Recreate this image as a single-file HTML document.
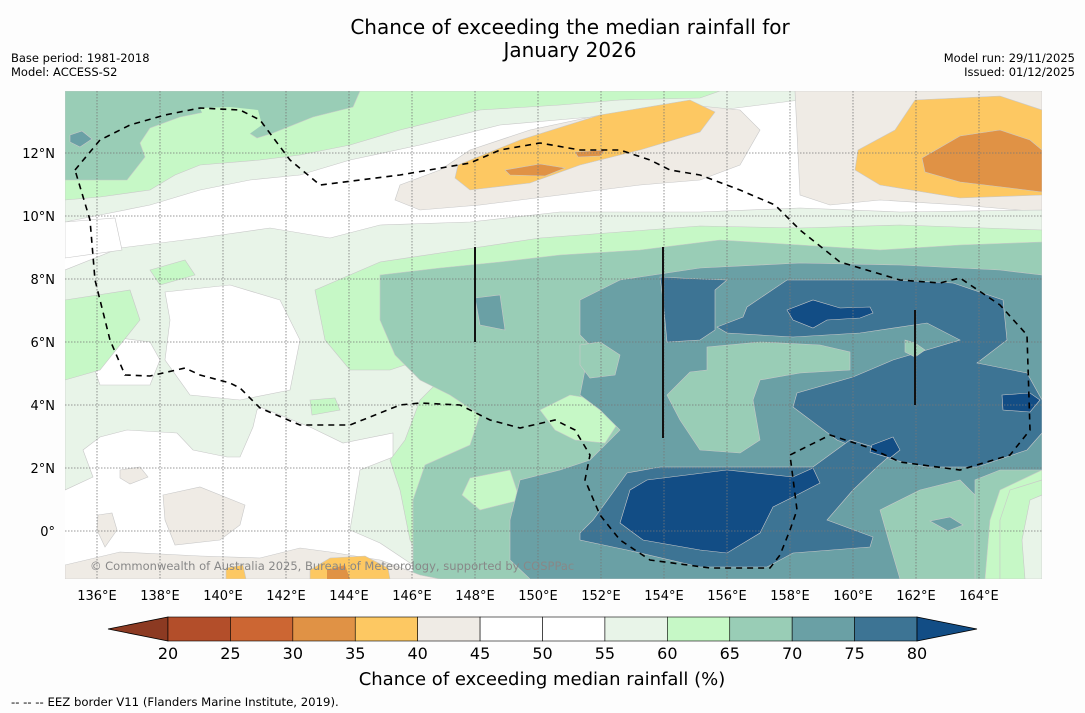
<!DOCTYPE html>
<html><head><meta charset="utf-8"><style>
body{margin:0;background:#fdfdfd;font-family:"DejaVu Sans",sans-serif;}
svg{display:block}
</style></head><body>
<svg width="1085" height="713" viewBox="0 0 1085 713" xmlns="http://www.w3.org/2000/svg" font-family="DejaVu Sans, sans-serif">
<rect width="1085" height="713" fill="#fdfdfd"/>
<text x="570" y="34" font-size="20" text-anchor="middle">Chance of exceeding the median rainfall for</text>
<text x="570" y="57" font-size="20" text-anchor="middle">January 2026</text>
<text x="11" y="62" font-size="11.5">Base period: 1981-2018</text>
<text x="11" y="76" font-size="11.5">Model: ACCESS-S2</text>
<text x="1075" y="62" font-size="11.5" text-anchor="end">Model run: 29/11/2025</text>
<text x="1075" y="76" font-size="11.5" text-anchor="end">Issued: 01/12/2025</text>

<defs><clipPath id="mc"><rect x="65" y="91" width="977" height="488"/></clipPath></defs>
<g clip-path="url(#mc)" stroke="#c8c8c8" stroke-width="0.6">
<rect x="65" y="91" width="977" height="488" fill="#ffffff" stroke="none"/>
<path d="M65,91 H1042 V105 L960,100 L880,95 L800,100 L720,110 L640,115 L580,118 L500,125 L420,145 L350,160 L300,175 L250,180 L200,190 L150,205 L100,215 L65,222 Z" fill="#e8f4e8"/>
<path d="M65,91 H720 L700,98 L620,100 L560,105 L480,110 L400,130 L350,145 L300,155 L260,160 L200,165 L175,175 L150,190 L100,197 L65,200 Z" fill="#c6f8c6"/>
<path d="M65,91 H360 L353,107 L313,117 L273,133 L257,138 L240,127 L223,117 L205,112 L180,117 L150,128 L140,143 L145,157 L127,180 L65,180 Z" fill="#99cdb6"/>
<path d="M70,135 L82,131 L92,139 L80,147 L70,142 Z" fill="#6aa0a5"/>
<path d="M200,108 L230,107 L258,110 L262,125 L248,135 L222,125 L205,120 Z" fill="#c6f8c6" stroke="none"/>
<path d="M395,200 L400,185 L440,170 L470,150 L530,130 L600,115 L690,105 L740,110 L760,130 L740,165 L700,180 L640,185 L560,195 L480,205 L420,210 Z" fill="#efebe5"/>
<path d="M458,165 L520,140 L600,115 L690,100 L715,112 L700,132 L640,150 L580,165 L530,183 L470,190 L455,178 Z" fill="#fdc862"/>
<path d="M505,170 L540,164 L565,168 L545,176 L510,175 Z" fill="#e09245"/>
<path d="M575,152 L605,150 L600,156 L578,157 Z" fill="#e09245"/>
<path d="M795,91 H1042 V212 L960,205 L880,200 L830,205 L800,195 Z" fill="#efebe5"/>
<path d="M858,150 L895,130 L915,100 L1000,96 L1042,110 V195 L960,198 L880,185 L855,170 Z" fill="#fdc862"/>
<path d="M922,158 L960,136 L1000,130 L1030,140 L1042,150 V192 L1010,188 L960,182 L925,172 Z" fill="#e09245"/>
<path d="M65,270 L120,248 L200,238 L270,228 L330,238 L380,225 L470,222 L560,212 L700,212 L800,208 L900,212 L1042,210 V579 H443 L410,563 L380,543 L350,530 L360,470 L393,457 L393,433 L343,443 L310,427 L260,407 L257,410 L253,427 L240,457 L227,457 L193,450 L177,433 L127,430 L100,437 L83,450 L93,477 L65,490 Z" fill="#e8f4e8"/>
<path d="M87,347 L120,338 L150,342 L160,360 L150,385 L100,385 Z" fill="#ffffff"/>
<path d="M165,292 L230,285 L280,300 L300,340 L290,390 L240,400 L190,395 L165,360 L170,320 Z" fill="#ffffff"/>
<path d="M65,222 L115,218 L122,250 L65,258 Z" fill="#ffffff"/>
<path d="M65,300 L130,290 L140,320 L100,370 L65,380 Z" fill="#c6f8c6"/>
<path d="M150,270 L185,260 L195,275 L160,285 Z" fill="#c6f8c6"/>
<path d="M310,400 L335,398 L340,410 L312,415 Z" fill="#c6f8c6"/>
<path d="M315,290 L380,262 L460,250 L540,238 L620,232 L700,226 L800,228 L900,225 L1042,230 V480 L1020,490 L1000,520 L1000,579 H430 L410,540 L400,490 L390,460 L405,440 L420,400 L440,380 L420,360 L390,370 L350,370 L325,340 Z" fill="#c6f8c6"/>
<path d="M380,275 L440,268 L500,262 L560,255 L640,250 L720,240 L800,245 L880,250 L960,245 L1042,242 V470 L1000,490 L990,520 L985,579 H413 L413,500 L425,465 L470,445 L480,415 L450,395 L420,380 L395,355 L380,320 Z" fill="#99cdb6"/>
<path d="M540,410 L570,395 L600,400 L620,420 L605,443 L575,440 L555,430 Z" fill="#c6f8c6"/>
<path d="M470,478 L510,470 L520,500 L480,510 L462,495 Z" fill="#c6f8c6"/>
<path d="M580,300 L620,280 L700,268 L800,263 L900,265 L1000,270 L1042,275 V470 L1000,470 L975,480 L975,579 H530 L510,560 L510,520 L520,480 L560,470 L590,460 L620,430 L600,410 L580,395 L585,370 L600,355 L580,335 Z" fill="#6aa0a5"/>
<path d="M475,298 L500,295 L505,330 L480,325 Z" fill="#6aa0a5"/>
<path d="M707,347 L760,342 L820,345 L850,352 L850,370 L800,373 L760,380 L753,400 L760,440 L740,453 L700,450 L680,420 L667,395 L690,372 L707,370 Z" fill="#99cdb6"/>
<path d="M580,345 L600,342 L620,355 L615,375 L590,378 L580,365 Z" fill="#99cdb6"/>
<path d="M880,510 L920,490 L960,480 L975,495 L975,579 H900 L890,545 Z" fill="#99cdb6"/>
<path d="M930,521 L950,517 L963,525 L948,531 Z" fill="#6aa0a5"/>
<path d="M1010,490 L1042,480 V579 H1000 L1000,520 Z" fill="#c6f8c6"/>
<path d="M1030,500 L1042,495 V579 H1025 L1022,540 Z" fill="#e8f4e8"/>
<path d="M660,277 L700,279 L727,280 L715,290 L715,330 L700,340 L667,342 L663,300 Z" fill="#3d7494"/>
<path d="M743,317 L747,307 L787,280 L893,280 L953,283 L1003,300 L1007,340 L977,363 L1027,373 L1042,400 V433 L1027,450 L977,467 L927,467 L880,457 L837,440 L793,407 L797,393 L853,377 L893,360 L960,340 L927,323 L860,333 L793,337 L727,333 L717,327 Z" fill="#3d7494"/>
<path d="M580,533 L593,520 L627,473 L660,467 L727,467 L813,467 L850,440 L893,453 L877,467 L853,490 L827,520 L873,537 L870,547 L793,553 L767,567 L700,567 L627,550 L580,540 Z" fill="#3d7494"/>
<path d="M905,340 L915,343 L925,350 L915,357 L905,352 Z" fill="#99cdb6"/>
<path d="M620,523 L630,490 L647,480 L727,470 L793,477 L813,468 L820,483 L793,497 L773,507 L760,533 L727,553 L700,550 L643,540 Z" fill="#124d85"/>
<path d="M787,310 L813,300 L840,308 L870,307 L873,313 L860,318 L827,320 L813,328 L793,320 Z" fill="#124d85"/>
<path d="M1002,395 L1030,393 L1040,400 L1030,412 L1003,410 Z" fill="#124d85"/>
<path d="M872,445 L893,437 L900,450 L890,458 L870,452 Z" fill="#124d85"/>
<path d="M120,470 L140,467 L148,477 L130,484 L120,478 Z" fill="#efebe5"/>
<path d="M98,515 L112,513 L117,530 L105,547 L97,530 Z" fill="#efebe5"/>
<path d="M163,495 L200,487 L245,505 L240,525 L220,540 L175,545 L165,520 Z" fill="#efebe5"/>
<path d="M65,565 L120,552 L200,556 L260,558 L300,548 L330,552 L380,560 L420,575 L440,579 H65 Z" fill="#efebe5"/>
<path d="M310,570 L330,558 L365,556 L388,568 L390,579 H310 Z" fill="#fdc862"/>
<path d="M226,568 L243,565 L246,579 H226 Z" fill="#fdc862"/>
<path d="M327,570 L345,565 L350,579 H327 Z" fill="#e09245" stroke="none"/>
<g stroke="#777" stroke-width="0.8" stroke-dasharray="1.5,1.5" fill="none">
<path d="M97,91V579M160,91V579M223,91V579M286,91V579M349,91V579M412,91V579M475,91V579M538,91V579M601,91V579M664,91V579M727,91V579M790,91V579M853,91V579M916,91V579M979,91V579"/>
<path d="M65,153H1042M65,216H1042M65,279H1042M65,342H1042M65,405H1042M65,468H1042M65,531H1042"/>
</g>
<path d="M75,170 L100,140 L130,125 L165,115 L200,108 L240,110 L260,120 L290,160 L320,185 L400,175 L470,163 L500,150 L540,143 L580,150 L620,150 L650,160 L670,170 L700,175 L740,190 L775,205 L800,230 L840,262 L900,280 L940,283 L960,278 L1000,305 L1027,335 L1030,430 L1010,455 L960,470 L900,462 L870,448 L830,435 L790,455 L797,510 L790,530 L780,555 L770,568 L710,568 L650,560 L620,540 L600,515 L585,480 L590,455 L575,430 L555,420 L520,428 L490,420 L460,405 L420,403 L400,405 L350,425 L300,425 L260,408 L240,388 L230,383 L200,375 L185,368 L150,376 L125,375 L110,340 L95,280 L90,220 Z" fill="none" stroke="#000" stroke-width="1.6" stroke-dasharray="6,5"/>
<path d="M475,247V342M663,247V438M915,310V405" stroke="#111" stroke-width="2"/>
<text x="90" y="570" font-size="11.5" fill="#888" stroke="none">© Commonwealth of Australia 2025, Bureau of Meteorology, supported by COSPPac</text>
</g>

<g font-size="13" fill="#000" text-anchor="middle">
<text x="97" y="600">136°E</text><text x="160" y="600">138°E</text><text x="223" y="600">140°E</text><text x="286" y="600">142°E</text><text x="349" y="600">144°E</text><text x="412" y="600">146°E</text><text x="475" y="600">148°E</text><text x="538" y="600">150°E</text><text x="601" y="600">152°E</text><text x="664" y="600">154°E</text><text x="727" y="600">156°E</text><text x="790" y="600">158°E</text><text x="853" y="600">160°E</text><text x="916" y="600">162°E</text><text x="979" y="600">164°E</text>
</g>
<g font-size="13" text-anchor="end">
<text x="55" y="158">12°N</text><text x="55" y="221">10°N</text><text x="55" y="284">8°N</text><text x="55" y="347">6°N</text><text x="55" y="410">4°N</text><text x="55" y="473">2°N</text><text x="55" y="536">0°</text>
</g>

<g id="cbar"></g>
<text x="542" y="685" font-size="18" text-anchor="middle">Chance of exceeding median rainfall (%)</text>
<text x="11" y="706" font-size="11.7">--  --  -- EEZ border V11 (Flanders Marine Institute, 2019).</text>
</svg>
<script>
const levels=[20,25,30,35,40,45,50,55,60,65,70,75,80];
const colors=["#b34e2a","#cc6633","#e09245","#fdc862","#efebe5","#ffffff","#ffffff","#e8f4e8","#c6f8c6","#99cdb6","#6aa0a5","#3d7494"];
const under="#8c3a22", over="#124d85";
const g=document.getElementById('cbar');
const NS="http://www.w3.org/2000/svg";
const x0=168,x1=917,y0=617,h=24;
const sx=v=>x0+(v-levels[0])/(levels[levels.length-1]-levels[0])*(x1-x0);
function mk(t,a){const e=document.createElementNS(NS,t);for(const k in a)e.setAttribute(k,a[k]);g.appendChild(e);return e;}
let p=mk('polygon',{points:`108,${y0+h/2} ${x0},${y0} ${x0},${y0+h}`,fill:under,stroke:'#000','stroke-width':0.8});


colors.forEach((c,i)=>{const r=mk('rect',{x:sx(levels[i]),y:y0,width:sx(levels[i+1])-sx(levels[i]),height:h,fill:c,stroke:'#000','stroke-width':0.6});

});
p=mk('polygon',{points:`${x1},${y0} 977,${y0+h/2} ${x1},${y0+h}`,fill:over,stroke:'#000','stroke-width':0.8});


levels.forEach(v=>{const t=mk('text',{x:sx(v),y:659,'font-size':16,'text-anchor':'middle'});t.textContent=v;

});
</script>
</body></html>
